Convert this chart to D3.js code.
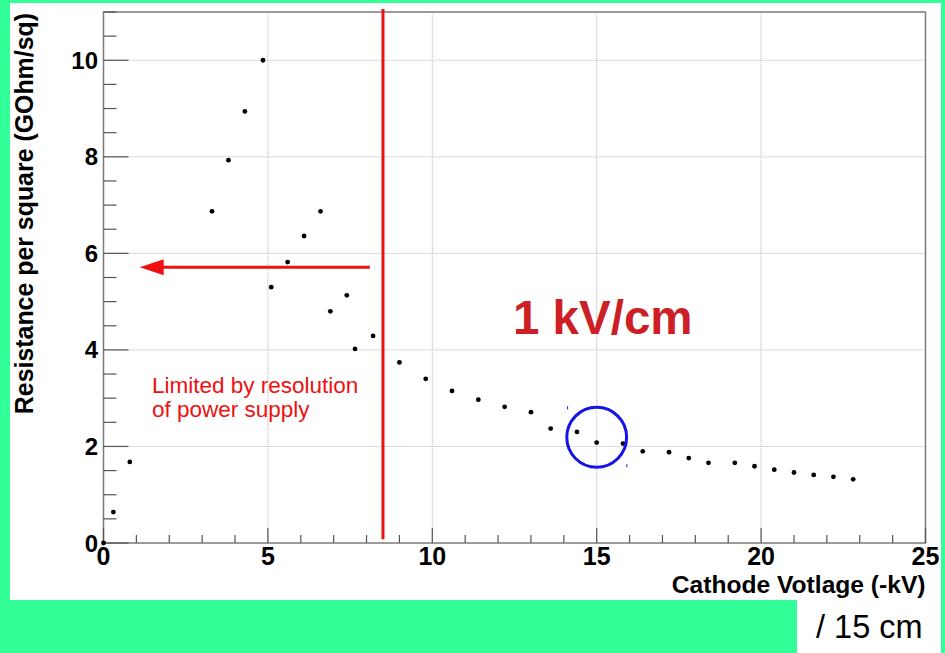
<!DOCTYPE html>
<html>
<head>
<meta charset="utf-8">
<script src="https://cdn.jsdelivr.net/npm/d3@7"></script>
<style>
  html, body { margin: 0; padding: 0; background: #33ff99; }
  svg { display: block; }
</style>
</head>
<body>
<svg id="chart" width="945" height="653"></svg>
<script>
// ---- data ----
const voltage = [0, 0.3, 0.8, 3.3, 3.8, 4.3, 4.85, 5.1, 5.6, 6.1, 6.6, 6.9, 7.4, 7.65, 8.2,
  9.0, 9.8, 10.6, 11.4, 12.2, 13.0, 13.6, 14.4, 15.0, 15.8, 16.4, 17.2, 17.8, 18.4, 19.2,
  19.8, 20.4, 21.0, 21.6, 22.2, 22.8];
const resistance = [0, 0.64, 1.68, 6.87, 7.93, 8.94, 10.0, 5.30, 5.82, 6.36, 6.87, 4.80, 5.13, 4.02, 4.29,
  3.74, 3.40, 3.15, 2.97, 2.82, 2.71, 2.37, 2.30, 2.08, 2.06, 1.90, 1.88, 1.76, 1.66, 1.66,
  1.59, 1.52, 1.46, 1.41, 1.37, 1.32];
const xTicks = [0, 5, 10, 15, 20, 25];
const yTicks = [0, 2, 4, 6, 8, 10];
const xDomain = [0, 25];
const yDomain = [0, 11];
const limitLineX = 8.5;
const limitLineY = [0.08, 11.06];
const arrowX = [8.1, 1.1];
const arrowY = 5.71;
const circleCenter = [15, 2.19];
const circleRadiusKV = 0.91;
const blueSpecks = [[14.1, 2.8], [15.9, 1.6]];
const xTitle = "Cathode Votlage (-kV)";
const yTitle = "Resistance per square (GOhm/sq)";
const noteLines = ["Limited by resolution", "of power supply"];
const fieldLabel = "1 kV/cm";
const lengthLabel = "/ 15 cm";

// ---- layout ----
const svg = d3.select("#chart");
const L = 103.5, R = 925.5, T = 12, B = 543;
const x = d3.scaleLinear().domain(xDomain).range([L, R]);
const y = d3.scaleLinear().domain(yDomain).range([B, T]);
const font = "'Liberation Sans', Arial, Helvetica, sans-serif";

// backgrounds
svg.append("rect").attr("x", 10).attr("y", 3).attr("width", 931).attr("height", 597).attr("fill", "#fff");
svg.append("rect").attr("x", 797).attr("y", 600).attr("width", 144).attr("height", 53).attr("fill", "#fff");

// grid
const g = svg.append("g");
g.selectAll(".gx").data(xTicks.filter(d => d > 0 && d < 25)).join("line")
  .attr("x1", d => x(d)).attr("x2", d => x(d)).attr("y1", T).attr("y2", B)
  .attr("stroke", "#b8b8b8").attr("stroke-width", 1).attr("stroke-dasharray", "1,1");
g.selectAll(".gy").data(yTicks.filter(d => d > 0)).join("line")
  .attr("x1", L).attr("x2", R).attr("y1", d => y(d)).attr("y2", d => y(d))
  .attr("stroke", "#b8b8b8").attr("stroke-width", 1).attr("stroke-dasharray", "1,1");

// frame
svg.append("rect").attr("x", L).attr("y", T).attr("width", R - L).attr("height", B - T)
  .attr("fill", "none").attr("stroke", "#7a7a7a").attr("stroke-width", 1.5);

// x axis ticks (inward)
const xMinor = d3.range(0, 26, 1);
svg.append("g").selectAll("line").data(xMinor).join("line")
  .attr("x1", d => x(d)).attr("x2", d => x(d)).attr("y1", B)
  .attr("y2", d => B - (d % 5 === 0 ? 15 : 8))
  .attr("stroke", "#555").attr("stroke-width", 1.2);
// y axis ticks (inward)
const yMinor = d3.range(0, 11.01, 0.5);
svg.append("g").selectAll("line").data(yMinor).join("line")
  .attr("y1", d => y(d)).attr("y2", d => y(d)).attr("x1", L)
  .attr("x2", d => L + (Math.abs(d % 2) < 1e-9 ? 25 : 13))
  .attr("stroke", "#555").attr("stroke-width", 1.2);

// tick labels
svg.append("g").selectAll("text").data(xTicks).join("text")
  .attr("x", d => x(d)).attr("y", 565).attr("text-anchor", "middle")
  .attr("font-family", font).attr("font-weight", "bold").attr("font-size", 25)
  .attr("fill", "#000").text(d => d);
svg.append("g").selectAll("text").data(yTicks).join("text")
  .attr("x", 98).attr("y", d => y(d) + 8.5).attr("text-anchor", "end")
  .attr("font-family", font).attr("font-weight", "bold").attr("font-size", 24)
  .attr("fill", "#000").text(d => d);

// axis titles
svg.append("text").attr("x", R).attr("y", 593).attr("text-anchor", "end")
  .attr("font-family", font).attr("font-weight", "bold").attr("font-size", 24.6)
  .attr("fill", "#000").text(xTitle);
svg.append("text").attr("transform", `translate(33,${T + 1}) rotate(-90)`)
  .attr("text-anchor", "end")
  .attr("font-family", font).attr("font-weight", "bold").attr("font-size", 24.9)
  .attr("fill", "#000").text(yTitle);

// data points
svg.append("g").selectAll("circle").data(voltage.map((v, i) => [v, resistance[i]])).join("circle")
  .attr("cx", d => x(d[0])).attr("cy", d => y(d[1])).attr("r", 2.4).attr("fill", "#000");

// red limit line
svg.append("line").attr("x1", x(limitLineX)).attr("x2", x(limitLineX))
  .attr("y1", y(limitLineY[0])).attr("y2", y(limitLineY[1]))
  .attr("stroke", "#ee1111").attr("stroke-width", 3);

// red arrow
const ax0 = x(arrowX[0]), ax1 = x(arrowX[1]), ay = y(arrowY);
svg.append("line").attr("x1", ax0).attr("x2", ax1 + 20).attr("y1", ay).attr("y2", ay)
  .attr("stroke", "#ee1111").attr("stroke-width", 3);
svg.append("path")
  .attr("d", `M${ax1},${ay} L${ax1 + 24},${ay - 8} L${ax1 + 24},${ay + 8} Z`)
  .attr("fill", "#ee1111");

// note text
svg.append("g").selectAll("text").data(noteLines).join("text")
  .attr("x", 152).attr("y", (d, i) => 393 + i * 24)
  .attr("font-family", font).attr("font-size", 22.5).attr("fill", "#ee1111").text(d => d);

// field label
svg.append("text").attr("x", 513).attr("y", 334)
  .attr("font-family", font).attr("font-weight", "bold").attr("font-size", 47.5)
  .attr("fill", "#cc1f26").text(fieldLabel);

// blue circle
const rPx = x(circleRadiusKV) - x(0);
svg.append("circle").attr("cx", x(circleCenter[0])).attr("cy", y(circleCenter[1])).attr("r", rPx)
  .attr("fill", "none").attr("stroke", "#1414e6").attr("stroke-width", 3);
svg.append("g").selectAll("rect").data(blueSpecks).join("rect")
  .attr("x", d => x(d[0])).attr("y", d => y(d[1]) - 1.5).attr("width", 1).attr("height", 3)
  .attr("fill", "#1414e6");

// length label
svg.append("text").attr("x", 816).attr("y", 638)
  .attr("font-family", font).attr("font-size", 32.5).attr("fill", "#000").text(lengthLabel);
</script>
</body>
</html>
